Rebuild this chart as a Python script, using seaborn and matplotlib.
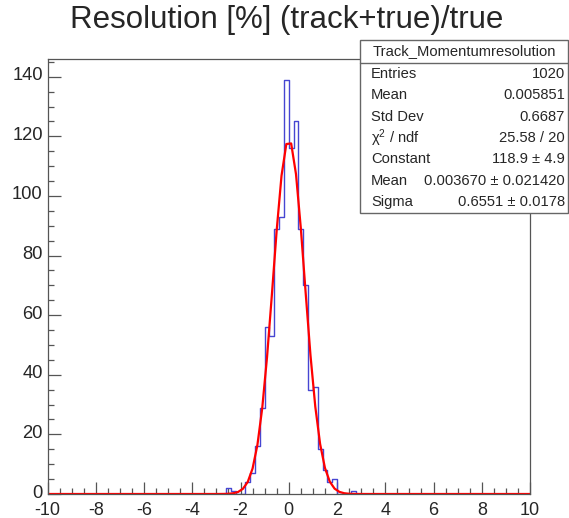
import numpy as np
import pandas as pd
import matplotlib
matplotlib.use("Agg")
import matplotlib.pyplot as plt
from matplotlib.ticker import MultipleLocator
from matplotlib.patches import Rectangle
from matplotlib.transforms import ScaledTranslation
import seaborn as sns

# ---- data ----
bin_centers = [-2.5, -2.3, -1.7, -1.5, -1.3, -1.1, -0.9, -0.7, -0.5, -0.3, -0.1,
               0.1, 0.3, 0.5, 0.7, 0.9, 1.1, 1.3, 1.5, 1.7, 1.9, 2.7]
counts = [2, 1, 4, 7, 16, 29, 56, 53, 89, 93, 139,
          116, 125, 89, 70, 35, 36, 15, 8, 4, 5, 1]
x_range = (-10.0, 10.0)
n_bins = 100

fit_constant = 118.9
fit_mean = 0.003670
fit_sigma = 0.6551

title = "Resolution [%] (track+true)/true"
stats_name = "Track_Momentumresolution"
stats_labels = ["Entries", "Mean", "Std Dev", "χ$^{2}$ / ndf", "Constant", "Mean", "Sigma"]
stats_values = ["1020", "0.005851", "0.6687", "25.58 / 20", "118.9 ± 4.9",
                "0.003670 ± 0.021420", "0.6551 ± 0.0178"]

# ---- style ----
sns.set_style("ticks")
plt.rcParams["font.family"] = ["Liberation Sans", "DejaVu Sans"]
plt.rcParams["axes.unicode_minus"] = False
plt.rcParams["mathtext.fontset"] = "custom"
plt.rcParams["mathtext.rm"] = "Liberation Sans"
plt.rcParams["mathtext.it"] = "Liberation Sans:italic"

W, H = 569, 518
fig = plt.figure(figsize=(W / 100, H / 100), dpi=100)
fig.patch.set_facecolor("white")

ax_l, ax_r, ax_t, ax_b = 47.5, 530, 59, 494
ax = fig.add_axes([ax_l / W, 1 - ax_b / H, (ax_r - ax_l) / W, (ax_b - ax_t) / H])
ax.set_facecolor("white")

edges = [float(e) for e in np.linspace(x_range[0], x_range[1], n_bins + 1)]
hist_df = pd.DataFrame({"x": bin_centers, "w": counts})
sns.histplot(data=hist_df, x="x", weights="w", bins=edges, element="step", fill=False,
             color="#4646d2", linewidth=1.0, ax=ax)

# Gaussian fit function sampled like ROOT (100 points)
xf = np.concatenate([[x_range[0]], np.linspace(-9.9, 9.9, 100), [x_range[1]]])
yf = fit_constant * np.exp(-0.5 * ((xf - fit_mean) / fit_sigma) ** 2)
sns.lineplot(x=xf, y=yf, color="red", linewidth=1.6, ax=ax, sort=False)

ax.set_xlim(*x_range)
ax.set_ylim(0, max(counts) * 1.05)
ax.set_xlabel("")
ax.set_ylabel("")

ax.xaxis.set_major_locator(MultipleLocator(2))
ax.xaxis.set_minor_locator(MultipleLocator(0.5))
ax.yaxis.set_major_locator(MultipleLocator(20))
ax.yaxis.set_minor_locator(MultipleLocator(5))
ax.tick_params(which="major", direction="in", length=9, width=0.9, color="#555555",
               labelsize=13.2, pad=3.5, top=False, right=False)
ax.tick_params(axis="x", which="major", pad=6, labelsize=13.0)
ax.tick_params(which="minor", direction="in", length=4.5, width=0.9, color="#555555",
               top=False, right=False)
shift_up = ScaledTranslation(0, 3.0 / 100, fig.dpi_scale_trans)
for tick in ax.yaxis.get_major_ticks():
    tick.label1.set_transform(tick.label1.get_transform() + shift_up)
for s in ax.spines.values():
    s.set_color("#555555")
    s.set_linewidth(0.9)
    s.set_visible(True)

# title
fig.text(287 / W, 1 - 20 / H, title, ha="center", va="center", fontsize=22.5)

# stats box
bx0, bx1, by0, by1, bsep = 360, 568, 40, 213, 63
rect = Rectangle((bx0 / W, 1 - by1 / H), (bx1 - bx0) / W, (by1 - by0) / H,
                 transform=fig.transFigure, facecolor="white", edgecolor="#666666",
                 linewidth=1.0, zorder=5)
fig.add_artist(rect)
fig.add_artist(plt.Line2D([bx0 / W, bx1 / W], [1 - bsep / H, 1 - bsep / H],
                          transform=fig.transFigure, color="#666666", linewidth=1.0, zorder=6))
fig.text((bx0 + bx1) / 2 / W, 1 - (by0 + bsep) / 2 / H, stats_name, ha="center",
         va="center", fontsize=10.6, zorder=7)
row_h = (by1 - bsep) / len(stats_labels)
for i, (lab, val) in enumerate(zip(stats_labels, stats_values)):
    yc = bsep + row_h * (i + 0.5)
    fig.text(371 / W, 1 - yc / H, lab, ha="left", va="center", fontsize=10.6, zorder=7)
    fig.text(565 / W, 1 - yc / H, val, ha="right", va="center", fontsize=10.6, zorder=7)

fig.savefig("out.png", dpi=100)
